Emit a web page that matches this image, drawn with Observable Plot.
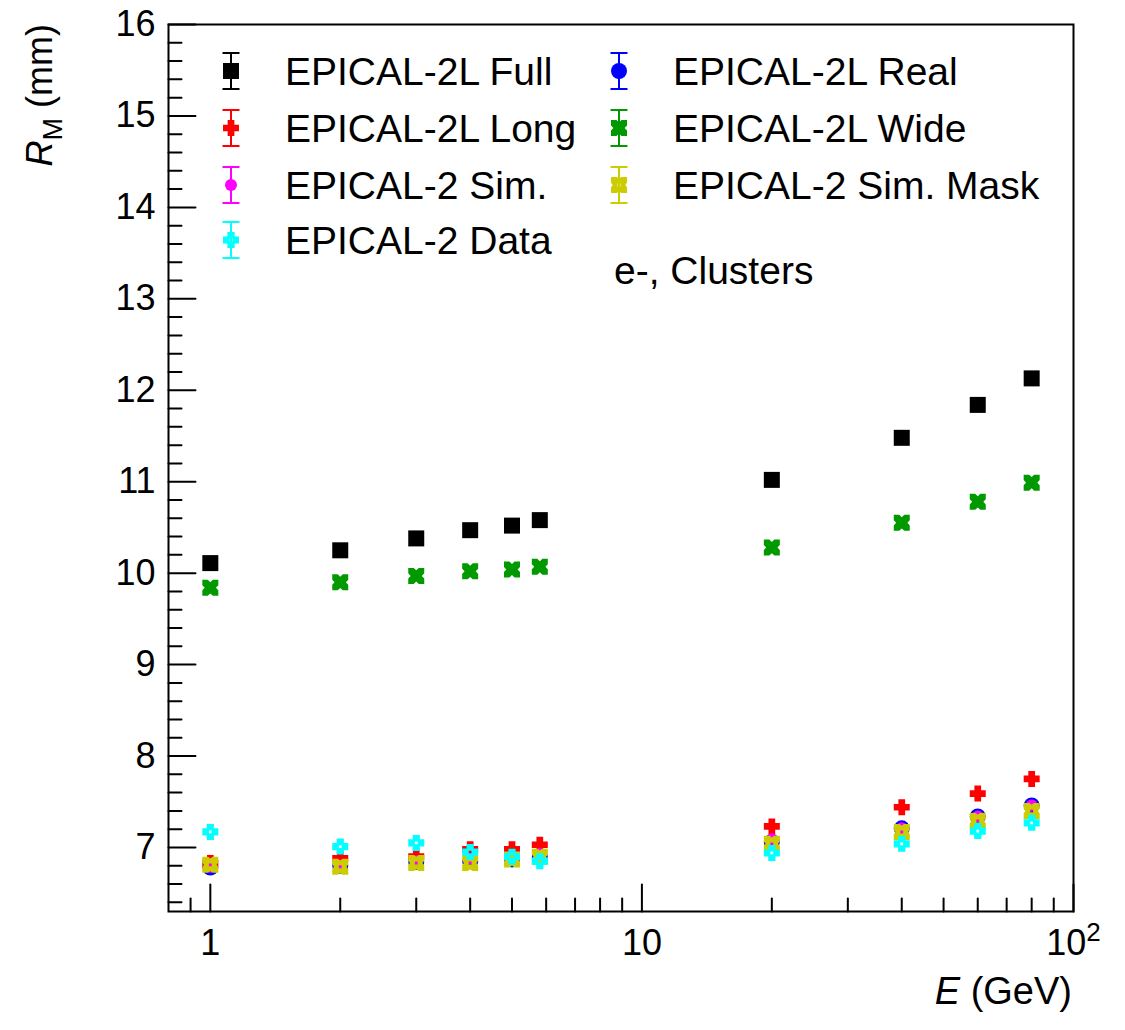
<!DOCTYPE html>
<html>
<head>
<meta charset="utf-8">
<script src="https://cdn.jsdelivr.net/npm/d3@7"></script>
<script src="https://cdn.jsdelivr.net/npm/@observablehq/plot@0.6"></script>
<style>
  html, body { margin: 0; padding: 0; background: #ffffff; }
  #chart svg { display: block; }
</style>
</head>
<body>
<div id="chart"></div>
<script>
// ---------------- data ----------------
const energy = [1, 2, 3, 4, 5, 5.8, 20, 40, 60, 80];

const full = [10.11, 10.25, 10.38, 10.47, 10.52, 10.58, 11.02, 11.48, 11.84, 12.13];
const real = [6.78, 6.80, 6.84, 6.85, 6.87, 6.89, 7.06, 7.21, 7.34, 7.46];
const long = [6.83, 6.88, 6.90, 6.98, 6.98, 7.03, 7.23, 7.44, 7.59, 7.75];
const wide = [9.84, 9.90, 9.97, 10.02, 10.04, 10.07, 10.28, 10.55, 10.78, 10.99];
const sim = [6.79, 6.80, 6.85, 6.88, 6.88, 6.93, 7.09, 7.21, 7.34, 7.46];
const simMask = [6.81, 6.79, 6.83, 6.83, 6.87, 6.90, 7.04, 7.17, 7.29, 7.40];
const dataE2 = [7.17, 7.01, 7.05, 6.95, 6.90, 6.85, 6.94, 7.04, 7.18, 7.27];

const seriesNames = ["EPICAL-2L Full", "EPICAL-2L Real", "EPICAL-2L Long", "EPICAL-2L Wide",
                     "EPICAL-2 Sim.", "EPICAL-2 Sim. Mask", "EPICAL-2 Data"];
const seriesValues = [full, real, long, wide, sim, simMask, dataE2];
const seriesColors = ["#000000", "#0000ff", "#ff0000", "#009900", "#ff00ff", "#cccc00", "#00ffff"];

const yMajor = [7, 8, 9, 10, 11, 12, 13, 14, 15, 16];
const yMinor = d3.range(6.4, 16, 0.2).map(v => +v.toFixed(1)).filter(v => Math.abs(v - Math.round(v)) > 1e-6);
const xMajor = [1, 10, 100];
const xMinor = [0.9, 2, 3, 4, 5, 6, 7, 8, 9, 20, 30, 40, 50, 60, 70, 80, 90];
const xTickLabels = {1: "1", 10: "10", 100: "10²"};

// ---------------- marker shapes ----------------
function rad(size) { return Math.sqrt(size / Math.PI); }
const symSquare = { draw(c, size) { const s = rad(size); c.rect(-s, -s, 2 * s, 2 * s); } };
function plusPath(c, s, a) {
  c.moveTo(-a, -s); c.lineTo(a, -s); c.lineTo(a, -a); c.lineTo(s, -a); c.lineTo(s, a);
  c.lineTo(a, a); c.lineTo(a, s); c.lineTo(-a, s); c.lineTo(-a, a); c.lineTo(-s, a);
  c.lineTo(-s, -a); c.lineTo(-a, -a); c.closePath();
}
function notchPath(c, s, n, d) {
  c.moveTo(-s, -s); c.lineTo(-n, -s); c.lineTo(0, -s + d); c.lineTo(n, -s); c.lineTo(s, -s);
  c.lineTo(s, -n); c.lineTo(s - d, 0); c.lineTo(s, n); c.lineTo(s, s);
  c.lineTo(n, s); c.lineTo(0, s - d); c.lineTo(-n, s); c.lineTo(-s, s);
  c.lineTo(-s, n); c.lineTo(-s + d, 0); c.lineTo(-s, -n); c.closePath();
}
function holePath(c, h) {
  c.moveTo(-h, -h); c.lineTo(-h, h); c.lineTo(h, h); c.lineTo(h, -h); c.closePath();
}
const symPlus = { draw(c, size) { const s = rad(size); plusPath(c, s, 0.42 * s); } };
const symXNotch = { draw(c, size) { const s = rad(size); notchPath(c, s, 0.32 * s, 0.3 * s); } };
const symXSquares = { draw(c, size) { const s = rad(size); notchPath(c, s, 0.28 * s, 0.22 * s); holePath(c, 0.18 * s); } };
const symPlusHole = { draw(c, size) { const s = rad(size); plusPath(c, s, 0.45 * s); holePath(c, 0.17 * s); } };
const symCircle = d3.symbolCircle;

const seriesSymbols = [symSquare, symCircle, symPlus, symXNotch, symCircle, symXSquares, symPlusHole];
const seriesRadius = [8, 8, 8, 8, 6, 8, 8];

// ---------------- build ----------------
const tickLine = { draw(c, l) { c.moveTo(0, 0); c.lineTo(0, -l); } };
const FONT = "'Liberation Sans', Arial, Helvetica, sans-serif";

const dotMarks = seriesNames.map((name, k) =>
  Plot.dot(energy.map((e, i) => ({E: e, R: seriesValues[k][i]})), {
    x: "E", y: "R", symbol: seriesSymbols[k], r: seriesRadius[k],
    fill: seriesColors[k], stroke: "none"
  })
);

const chart = Plot.plot({
  width: 1125,
  height: 1030,
  marginLeft: 168,
  marginRight: 52,
  marginTop: 24,
  marginBottom: 119,
  style: {fontFamily: FONT, background: "#ffffff", color: "#000000"},
  x: {type: "log", domain: [0.8, 100]},
  y: {domain: [6.3, 16]},
  marks: [
    Plot.axisY({ticks: yMajor, tickSize: 0, tickPadding: 13, fontSize: 36, label: null, tickFormat: d => String(d)}),
    Plot.axisX({ticks: xMajor, tickSize: 0, tickPadding: 18, fontSize: 36, label: null, tickFormat: d => xTickLabels[d]}),
    Plot.vector(yMajor, {y: d => d, frameAnchor: "left", rotate: 90, length: 27, anchor: "start", shape: tickLine, stroke: "#000", strokeWidth: 2}),
    Plot.vector(yMinor, {y: d => d, frameAnchor: "left", rotate: 90, length: 13, anchor: "start", shape: tickLine, stroke: "#000", strokeWidth: 2}),
    Plot.vector(xMajor, {x: d => d, frameAnchor: "bottom", rotate: 0, length: 27, anchor: "start", shape: tickLine, stroke: "#000", strokeWidth: 2}),
    Plot.vector(xMinor, {x: d => d, frameAnchor: "bottom", rotate: 0, length: 13, anchor: "start", shape: tickLine, stroke: "#000", strokeWidth: 2}),
    ...dotMarks,
    Plot.frame({stroke: "#000", strokeWidth: 2})
  ]
});

document.getElementById("chart").appendChild(chart);

const svg = d3.select(chart);

// superscript exponent on the "10²" tick label
svg.selectAll("text").each(function() {
  const t = d3.select(this);
  if (t.text() === "10²" && this.childElementCount === 0) {
    t.text("");
    t.append("tspan").text("10");
    t.append("tspan").attr("font-size", 26).attr("dy", "-0.55em").text("2");
  }
});

// ---------------- titles & legend ----------------
const g = svg.append("g").attr("font-family", FONT).attr("fill", "#000").attr("text-anchor", "start");

// Y title: R_M (mm)
const yt = g.append("text")
  .attr("transform", "translate(52,24) rotate(-90)")
  .attr("text-anchor", "end")
  .attr("font-size", 36);
yt.append("tspan").attr("font-style", "italic").text("R");
yt.append("tspan").attr("font-size", 27).attr("dy", 10).text("M");
yt.append("tspan").attr("dy", -10).text(" (mm)");

// X title: E (GeV)
const xt = g.append("text")
  .attr("x", 1072).attr("y", 1004)
  .attr("text-anchor", "end")
  .attr("font-size", 38);
xt.append("tspan").attr("font-style", "italic").text("E");
xt.append("tspan").text(" (GeV)");

// Legend (ROOT 2-column layout, row-wise fill)
const legendCols = [{mx: 231, tx: 285}, {mx: 619, tx: 673}];
const legendRows = [71, 128, 185, 240];
seriesNames.forEach((name, k) => {
  const col = legendCols[k % 2];
  const cy = legendRows[Math.floor(k / 2)];
  const lg = g.append("g");
  lg.append("path")
    .attr("d", `M${col.mx},${cy - 18}V${cy + 18}M${col.mx - 8.5},${cy - 18}H${col.mx + 8.5}M${col.mx - 8.5},${cy + 18}H${col.mx + 8.5}`)
    .attr("stroke", seriesColors[k]).attr("stroke-width", 2).attr("fill", "none");
  lg.append("path")
    .attr("transform", `translate(${col.mx},${cy})`)
    .attr("d", d3.symbol(seriesSymbols[k], Math.PI * seriesRadius[k] * seriesRadius[k])())
    .attr("fill", seriesColors[k]);
  lg.append("text")
    .attr("x", col.tx).attr("y", cy + 14)
    .attr("text-anchor", "start")
    .attr("font-size", 39)
    .text(name);
});

g.append("text").attr("x", 614).attr("y", 284).attr("text-anchor", "start").attr("font-size", 39).text("e-, Clusters");
</script>
</body>
</html>
